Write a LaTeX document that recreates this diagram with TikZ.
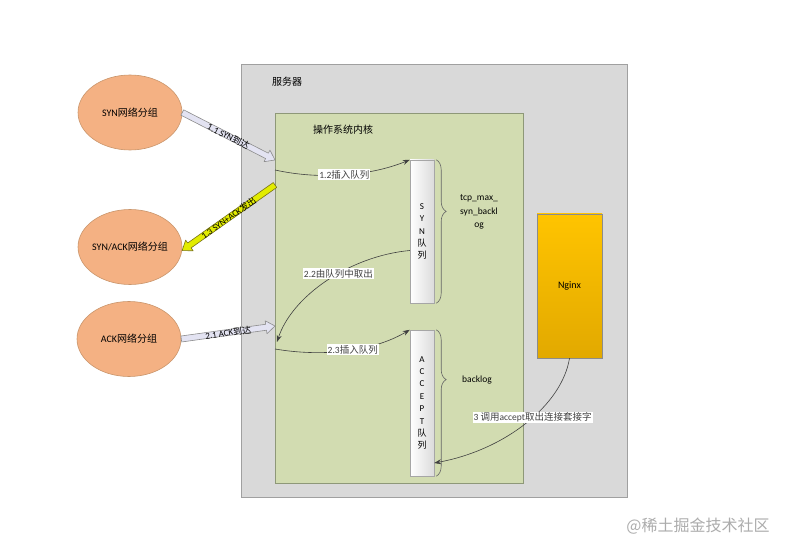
\documentclass[tikz,border=0pt]{standalone}
\usepackage{fontspec}
\setmainfont{Carlito}
\newfontfamily\cjk{Noto Sans CJK SC}
\usepackage{xcolor}
\usetikzlibrary{shapes.geometric,arrows.meta,positioning,calc,decorations.pathreplacing}

\definecolor{serverfill}{HTML}{D9D9D9}
\definecolor{serverline}{HTML}{A0A0A0}
\definecolor{kernelfill}{HTML}{D2DCB1}
\definecolor{kernelline}{HTML}{8E9878}
\definecolor{pktfill}{HTML}{F4B183}
\definecolor{pktline}{HTML}{C9956B}
\definecolor{nginxtop}{HTML}{FFC400}
\definecolor{nginxbot}{HTML}{E2A900}
\definecolor{inarrow}{HTML}{E3E3F2}
\definecolor{outarrow}{HTML}{E2EC00}

% flat block arrow between two points: from, to, fill, border
\newcommand{\blockarrow}[4]{%
  \coordinate (ba-s) at (#1);
  \coordinate (ba-e) at (#2);
  \coordinate (ba-m) at ($(ba-e)!9pt!(ba-s)$);
  \filldraw[fill=#3, draw=#4, line width=0.6pt, line join=round]
    ($(ba-s)!3pt!90:(ba-e)$) -- ($(ba-m)!3pt!90:(ba-e)$) -- ($(ba-m)!6.5pt!90:(ba-e)$)
    -- (ba-e) -- ($(ba-m)!6.5pt!-90:(ba-e)$) -- ($(ba-m)!3pt!-90:(ba-e)$)
    -- ($(ba-s)!3pt!-90:(ba-e)$) -- cycle;
}

\begin{document}
\begin{tikzpicture}[
    x=1pt, y=-1pt,
    packet/.style={ellipse, draw=pktline, fill=pktfill, line width=0.6pt, minimum width=104pt, minimum height=75pt, inner xsep=-8pt, inner ysep=0pt, font=\fontsize{10}{12}\selectfont},
    queue/.style={rectangle, draw=gray!70, left color=white, right color=gray!28, minimum width=24pt, minimum height=#1, inner sep=0pt, align=center, font=\fontsize{9}{12.4}\selectfont},
    lbl/.style={fill=white, inner sep=1pt, font=\fontsize{9.5}{11}\selectfont},
    albl/.style={sloped, inner sep=0pt, font=\fontsize{9}{11}\selectfont},
    conn/.style={-{Stealth[length=7pt, width=5pt]}, color=black!75, line width=0.6pt},
    brace/.style={decorate, decoration={brace, amplitude=10pt, aspect=#1}, draw=black!60, line width=0.6pt}
]
    \useasboundingbox (0,0) rectangle (789,553);

    % Server and kernel
    \node[draw=serverline, fill=serverfill, line width=0.6pt, minimum width=386pt, minimum height=433pt, inner sep=0pt] (server) at (434,280.5) {};
    \node[font=\cjk\fontsize{10}{12}\selectfont] (serverlbl) at (287,82) {服务器};
    \node[draw=kernelline, fill=kernelfill, line width=0.6pt, minimum width=248pt, minimum height=370pt, inner sep=0pt] (kernel) at (399,298) {};
    \node[font=\cjk\fontsize{10}{12}\selectfont] (kernellbl) at (343,130) {操作系统内核};

    % Packets
    \node[packet] (syn) at (130,112.5) {SYN{\cjk 网络分组}};
    \node[packet] (synack) at (130,247) {SYN/ACK{\cjk 网络分组}};
    \node[packet] (ack) at (129,339) {ACK{\cjk 网络分组}};

    % Queues
    \node[queue=143pt] (synq) at (422,231.5) {S\\Y\\N\\{\cjk 队}\\{\cjk 列}};
    \node[queue=146pt] (accq) at (422,403) {A\\C\\C\\E\\P\\T\\{\cjk 队}\\{\cjk 列}};

    % Nginx
    \node[rectangle, draw=black!45, top color=nginxtop, bottom color=nginxbot, minimum width=65pt, minimum height=144pt, inner sep=0pt, font=\fontsize{10}{12}\selectfont] (nginx) at (569.5,286) {Nginx};

    % Braces
    \draw[brace=0.36] ([xshift=2pt]synq.north east) -- ([xshift=2pt]synq.south east);
    \draw[brace=0.34] ([xshift=2pt]accq.north east) -- ([xshift=2pt]accq.south east);
    \node[align=center, font=\fontsize{9.5}{13.5}\selectfont] (synlen) at (479,212) {tcp\_max\_\\syn\_backl\\og};
    \node[font=\fontsize{9.5}{11}\selectfont] (acclen) at (477,380) {backlog};

    % Points on the kernel border
    \coordinate (k11) at (275,160);
    \coordinate (k13) at (275,185);
    \coordinate (k21) at (275,326);
    \coordinate (k12) at (275,170);
    \coordinate (k22) at (277,342);
    \coordinate (k23) at (275,349);

    % Packet arrows
    \blockarrow{syn.east}{k11}{inarrow}{black!45}
    \path (syn.east) -- (k11) node[albl, midway] {1.1 SYN{\cjk 到达}};
    \blockarrow{k13}{synack.-4}{outarrow}{olive!80!black}
    \path (k13) -- (synack.-4) node[albl, midway] {1.3 SYN+ACK{\cjk 发出}};
    \blockarrow{ack.east}{k21}{inarrow}{black!45}
    \path (ack.east) -- (k21) node[albl, midway] {2.1 ACK{\cjk 到达}};

    % Queue moves
    \draw[conn] (k12) .. controls (320,180) and (370,176) .. (synq.north west)
        node[lbl, pos=0.5] {1.2{\cjk 插入队列}};
    \draw[conn] ([yshift=-19pt]synq.west) .. controls (350,256) and (292,296) .. (k22)
        node[lbl, pos=0.42] {2.2{\cjk 由队列中取出}};
    \draw[conn] (k23) .. controls (322,357) and (372,352) .. (accq.north west)
        node[lbl, pos=0.55] {2.3{\cjk 插入队列}};
    \draw[conn] (nginx.south) .. controls (562,405) and (505,450) .. ([yshift=-60pt]accq.east)
        node[lbl, pos=0.45] {3 {\cjk 调用}accept{\cjk 取出连接套接字}};

    % Watermark
    \node[text=gray!65, font=\cjk\fontsize{16}{18}\selectfont] (mark) at (698,526) {@稀土掘金技术社区};
\end{tikzpicture}
\end{document}
